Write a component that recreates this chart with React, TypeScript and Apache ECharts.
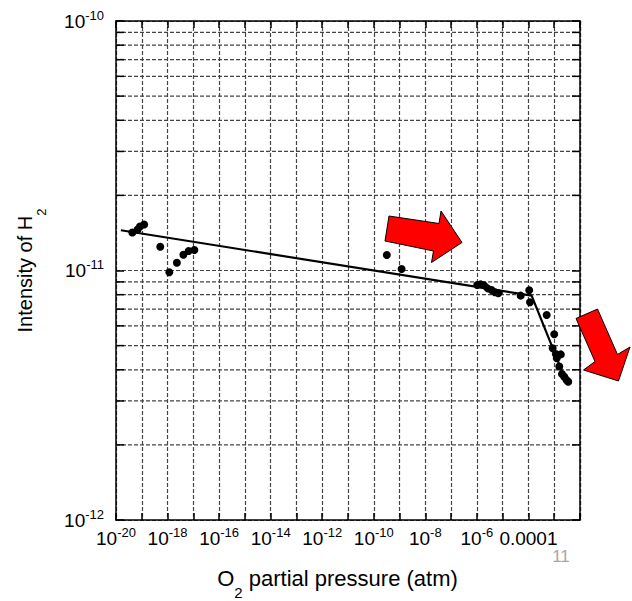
import React, { useEffect, useRef } from 'react';
import * as echarts from 'echarts';

// O2 partial pressure (atm) of each measured point
const pressure = [
  4.3e-20, 6.9e-20, 8.5e-20, 1.23e-19, 5.2e-19, 1.17e-18, 2.3e-18, 4.1e-18, 6.6e-18, 1.1e-17,
  3.2e-10, 1.2e-9,
  1.03e-6, 1.4e-6, 1.9e-6, 2.6e-6, 3.7e-6, 5.0e-6, 6.8e-6, 5.0e-5, 1.07e-4, 1.15e-4,
  5.1e-4, 1.0e-3, 8.7e-4, 1.15e-3, 1.8e-3, 1.25e-3, 1.57e-3, 2.0e-3, 2.45e-3, 3.0e-3, 3.5e-3,
];
// Intensity of H2 of each measured point
const intensity = [
  1.42e-11, 1.46e-11, 1.5e-11, 1.53e-11, 1.245e-11, 9.84e-12, 1.074e-11, 1.157e-11, 1.197e-11, 1.208e-11,
  1.153e-11, 1.014e-11,
  8.75e-12, 8.8e-12, 8.72e-12, 8.48e-12, 8.35e-12, 8.18e-12, 8.1e-12, 7.93e-12, 8.33e-12, 7.46e-12,
  6.63e-12, 5.55e-12, 4.88e-12, 4.63e-12, 4.61e-12, 4.45e-12, 4.12e-12, 3.85e-12, 3.75e-12, 3.64e-12, 3.58e-12,
];
// Fitted broken line
const fitPressure = [1.55e-20, 1.33e-4, 3.1e-3];
const fitIntensity = [1.45e-11, 7.93e-12, 3.53e-12];

// Axis ranges and tick labels
const xMin = 1e-20;
const xMax = 1e-2;
const yMin = 1e-12;
const yMax = 1e-10;
const xLabelExp = [-20, -18, -16, -14, -12, -10, -8, -6, -4];
const xLabelText = ['10^-20', '10^-18', '10^-16', '10^-14', '10^-12', '10^-10', '10^-8', '10^-6', '0.0001'];
const yLabelExp = [-12, -11, -10];
const yLabelText = ['10^-12', '10^-11', '10^-10'];
const yMinorGrid = [
  2e-12, 3e-12, 4e-12, 5e-12, 6e-12, 7e-12, 8e-12, 9e-12,
  2e-11, 3e-11, 4e-11, 5e-11, 6e-11, 7e-11, 8e-11, 9e-11,
];

const FONT = '"Liberation Sans", Arial, sans-serif';
const GRID_COLOR = '#444';
const GRID_DASH = [4, 2];
const GRID_WIDTH = 1.2;

function toRich(text: string): string {
  if (!text) return '';
  const i = text.indexOf('^');
  if (i < 0) return `{b|${text}}`;
  return `{b|${text.slice(0, i)}}{s|${text.slice(i + 1)}}`;
}

function labelFor(value: number, exps: number[], texts: string[]): string {
  const e = Math.round(Math.log10(value));
  const idx = exps.indexOf(e);
  return idx < 0 ? '' : toRich(texts[idx]);
}

const labelRich = {
  b: { fontSize: 19, fontFamily: FONT, color: '#000', lineHeight: 30 },
  s: { fontSize: 13, fontFamily: FONT, color: '#000', padding: [0, 0, 12, 0] },
};

export default function App() {
  const ref = useRef<HTMLDivElement>(null);
  useEffect(() => {
    if (!ref.current) return;
    const chart = echarts.init(ref.current, undefined, { renderer: 'svg' });
    const tickStyle = { color: '#000', width: 1.5 };
    const lineStyle = { color: '#000', width: 1.5 };
    const option: any = {
      animation: false,
      backgroundColor: '#fff',
      textStyle: { fontFamily: FONT },
      grid: { left: 116, top: 21, right: 52, bottom: 81, containLabel: false, outerBoundsMode: 'none' },
      xAxis: [
        {
          type: 'log',
          logBase: 10,
          min: xMin,
          max: xMax,
          interval: 1,
          position: 'bottom',
          axisLine: { show: true, onZero: false, lineStyle },
          axisTick: { show: true, inside: true, length: 7, lineStyle: tickStyle },
          splitLine: { show: true, lineStyle: { color: GRID_COLOR, width: GRID_WIDTH, type: GRID_DASH } },
          axisLabel: {
            interval: 0,
            margin: 3,
            showMinLabel: true,
            showMaxLabel: true,
            formatter: (v: number) => labelFor(v, xLabelExp, xLabelText),
            rich: labelRich,
          },
          name: '{a|O}{sub|2}{a| partial pressure (atm)}',
          nameLocation: 'middle',
          nameGap: 36,
          nameTextStyle: {
            padding: [0, 21, 0, 0],
            rich: {
              a: { fontSize: 22, fontFamily: FONT, color: '#000' },
              sub: { fontSize: 15, fontFamily: FONT, color: '#000', padding: [29, 0, 0, 0] },
            },
          },
        },
        {
          type: 'log',
          logBase: 10,
          min: xMin,
          max: xMax,
          interval: 1,
          position: 'top',
          axisLine: { show: true, onZero: false, lineStyle },
          axisTick: { show: true, inside: true, length: 7, lineStyle: tickStyle },
          splitLine: { show: false },
          axisLabel: { show: false },
        },
      ],
      yAxis: [
        {
          type: 'log',
          logBase: 10,
          min: yMin,
          max: yMax,
          interval: 1,
          position: 'left',
          axisLine: { show: true, onZero: false, lineStyle },
          axisTick: { show: true, inside: true, length: 8, lineStyle: tickStyle },
          splitLine: { show: true, lineStyle: { color: GRID_COLOR, width: GRID_WIDTH, type: GRID_DASH } },
          axisLabel: {
            interval: 0,
            margin: 12,
            formatter: (v: number) => labelFor(v, yLabelExp, yLabelText),
            rich: labelRich,
          },
          name: '{a|Intensity of H}{sub|2}',
          nameLocation: 'middle',
          nameGap: 68,
          nameRotate: 90,
          nameTextStyle: {
            rich: {
              a: { fontSize: 20, fontFamily: FONT, color: '#000' },
              sub: { fontSize: 13, fontFamily: FONT, color: '#000', padding: [34, 0, 0, 0] },
            },
          },
        },
        {
          type: 'log',
          logBase: 10,
          min: yMin,
          max: yMax,
          interval: 1,
          position: 'right',
          axisLine: { show: true, onZero: false, lineStyle },
          axisTick: { show: true, inside: true, length: 8, lineStyle: tickStyle },
          splitLine: { show: false },
          axisLabel: { show: false },
        },
      ],
      series: [
        {
          type: 'custom',
          name: 'minor grid',
          xAxisIndex: 0,
          yAxisIndex: 0,
          silent: true,
          clip: false,
          z: 1,
          data: yMinorGrid.map((v) => [xMin, v]),
          renderItem: (params: any, api: any) => {
            const cs = params.coordSys;
            const pt = api.coord([api.value(0), api.value(1)]);
            const y = pt[1];
            return {
              type: 'group',
              children: [
                {
                  type: 'line',
                  shape: { x1: cs.x, y1: y, x2: cs.x + cs.width, y2: y },
                  style: { stroke: GRID_COLOR, lineWidth: GRID_WIDTH, lineDash: GRID_DASH },
                },
                {
                  type: 'line',
                  shape: { x1: cs.x, y1: y, x2: cs.x + 8, y2: y },
                  style: { stroke: '#000', lineWidth: 1.5 },
                },
                {
                  type: 'line',
                  shape: { x1: cs.x + cs.width - 8, y1: y, x2: cs.x + cs.width, y2: y },
                  style: { stroke: '#000', lineWidth: 1.5 },
                },
              ],
            };
          },
        },
        {
          type: 'line',
          name: 'fit',
          data: fitPressure.map((p, i) => [p, fitIntensity[i]]),
          showSymbol: false,
          symbol: 'none',
          lineStyle: { color: '#000', width: 2.2 },
          z: 3,
        },
        {
          type: 'scatter',
          name: 'H2',
          data: pressure.map((p, i) => [p, intensity[i]]),
          symbol: 'circle',
          symbolSize: 8,
          itemStyle: { color: '#000', opacity: 1 },
          z: 4,
        },
      ],
      graphic: [
        {
          type: 'polygon',
          z: 10,
          shape: {
            points: [
              [389, 216], [439, 223.5], [441, 211], [462, 242.5], [431.5, 262.5], [433.5, 251], [385, 241],
            ],
          },
          style: { fill: '#ff0000', stroke: '#000', lineWidth: 1 },
        },
        {
          type: 'polygon',
          z: 10,
          shape: {
            points: [
              [576, 318.5], [597.5, 309], [617.5, 354.5], [630, 347], [618.5, 381], [583.5, 370], [595, 361.5],
            ],
          },
          style: { fill: '#ff0000', stroke: '#000', lineWidth: 1 },
        },
        {
          type: 'text',
          x: 561,
          y: 556,
          style: {
            text: '11',
            fill: '#a6a6a6',
            font: `17px ${FONT}`,
            align: 'center',
            verticalAlign: 'middle',
          },
        },
      ],
    };
    chart.setOption(option);
    return () => chart.dispose();
  }, []);
  return (
    <div
      ref={ref}
      style={{ position: 'fixed', left: 0, top: 0, width: 632, height: 601, background: '#fff' }}
    />
  );
}
